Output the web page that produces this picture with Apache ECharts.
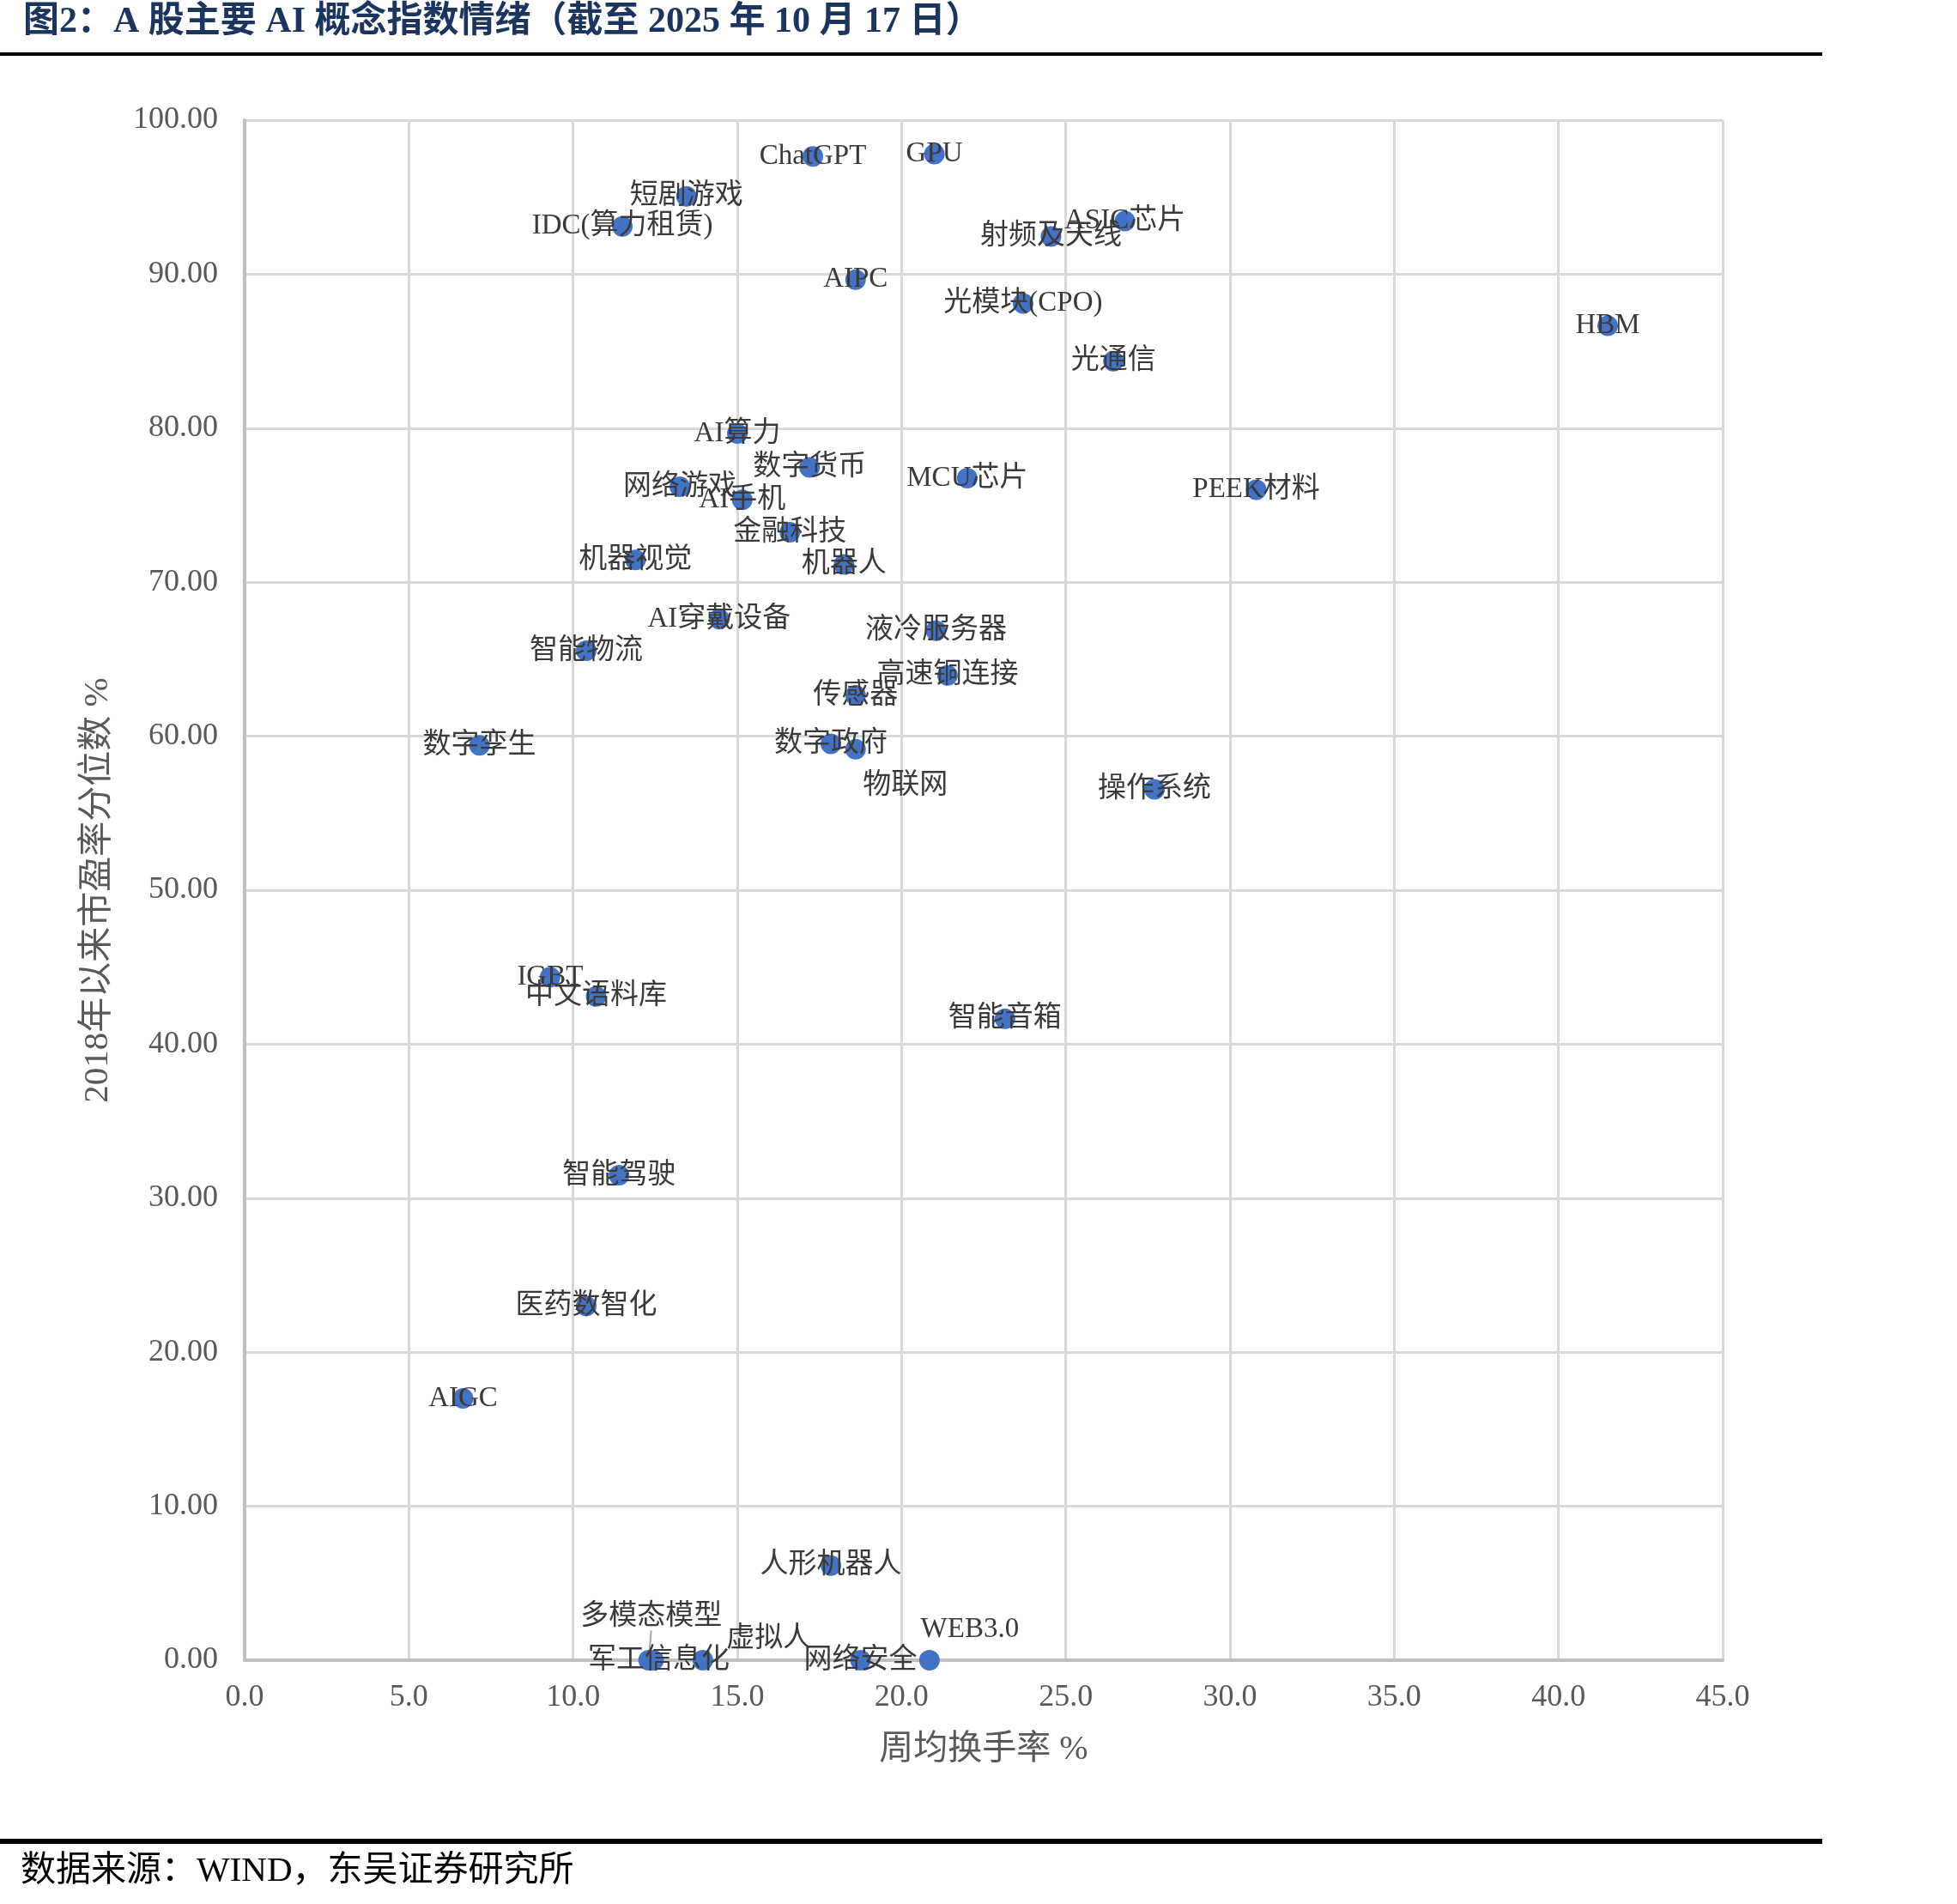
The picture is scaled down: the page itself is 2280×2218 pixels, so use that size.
<!DOCTYPE html>
<html>
<head>
<meta charset="utf-8">
<script src="https://cdn.jsdelivr.net/npm/echarts@6/dist/echarts.min.js"></script>
<style>
  html, body { margin: 0; padding: 0; background: #fff; }
  #chart { width: 2280px; height: 2218px; }
</style>
</head>
<body>
<div id="chart"></div>
<script>
// 概念名称
const names = [
  'ChatGPT', 'GPU', '短剧游戏', 'IDC(算力租赁)', 'ASIC芯片', '射频及天线', 'AIPC', '光模块(CPO)',
  'HBM', '光通信', 'AI算力', '数字货币', 'MCU芯片', '网络游戏', 'PEEK材料', 'AI手机',
  '金融科技', '机器视觉', '机器人', 'AI穿戴设备', '液冷服务器', '智能物流', '高速铜连接', '传感器',
  '数字孪生', '数字政府', '物联网', '操作系统', 'IGBT', '中文语料库', '智能音箱', '智能驾驶',
  '医药数智化', 'AIGC', '人形机器人', '多模态模型', '军工信息化', '虚拟人', '网络安全', 'WEB3.0'
];
// 周均换手率 %
const turnover = [
  17.3, 21.0, 13.45, 11.5, 26.8, 24.55, 18.6, 23.7,
  41.5, 26.45, 15.0, 17.2, 22.0, 13.25, 30.8, 15.15,
  16.6, 11.9, 18.25, 14.45, 21.05, 10.4, 21.4, 18.6,
  7.15, 17.85, 18.6, 27.7, 9.3, 10.7, 23.15, 11.4,
  10.4, 6.65, 17.85, 12.3, 12.45, 13.95, 18.75, 20.85
];
// 2018年以来市盈率分位数 %
const pePercentile = [
  97.65, 97.8, 95.05, 93.1, 93.45, 92.45, 89.65, 88.1,
  86.65, 84.35, 79.65, 77.45, 76.75, 76.2, 76.0, 75.35,
  73.25, 71.45, 71.15, 67.6, 66.85, 65.55, 63.95, 62.65,
  59.4, 59.5, 59.15, 56.55, 44.35, 43.1, 41.65, 31.5,
  23.0, 17.0, 6.15, 0.0, 0.0, 0.0, 0.0, 0.0
];

const xMin = 0, xMax = 45, xStep = 5;
const yMin = 0, yMax = 100, yStep = 10;

// 手动挪开的标签（像素偏移）
const labelShift = {
  '物联网': [58, 42],
  '多模态模型': [3, -51],
  '虚拟人': [77, -25],
  'WEB3.0': [47, -36],
  '军工信息化': [6, 0]
};

const serif = "'Liberation Serif', 'Noto Sans CJK SC', serif";

const chart = echarts.init(document.getElementById('chart'));

const points = names.map((n, i) => {
  const item = { name: n, value: [turnover[i], pePercentile[i]] };
  if (n === '多模态模型') {
    item.labelLine = { show: true, lineStyle: { color: '#a6a6a6', width: 2 } };
  }
  return item;
});

const option = {
  backgroundColor: '#ffffff',
  animation: false,
  title: {
    text: '图2：A 股主要 AI 概念指数情绪（截至 2025 年 10 月 17 日）',
    left: 22,
    top: 0,
    textStyle: { fontFamily: serif, fontSize: 42, fontWeight: 'bold', color: '#1c355e' }
  },
  graphic: [
    { type: 'line', shape: { x1: 0, y1: 63, x2: 2123, y2: 63 }, style: { stroke: '#000', lineWidth: 4 } },
    { type: 'line', shape: { x1: 0, y1: 2145, x2: 2123, y2: 2145 }, style: { stroke: '#000', lineWidth: 6 } },
    {
      type: 'text', left: 24, top: 2160,
      style: { text: '数据来源：WIND，东吴证券研究所', font: '41px ' + serif, fill: '#000' }
    }
  ],
  grid: { left: 285, right: 273, top: 140, bottom: 284 },
  xAxis: {
    type: 'value',
    min: xMin, max: xMax, interval: xStep,
    name: '周均换手率 %',
    nameLocation: 'middle',
    nameGap: 84,
    nameTextStyle: { fontFamily: serif, fontSize: 40, color: '#595959' },
    axisLine: { show: true, lineStyle: { color: '#bfbfbf', width: 4 } },
    axisTick: { show: false },
    axisLabel: {
      margin: 26, fontFamily: serif, fontSize: 36, color: '#595959',
      formatter: v => v.toFixed(1)
    },
    splitLine: { show: true, lineStyle: { color: '#d9d9d9', width: 3 } }
  },
  yAxis: {
    type: 'value',
    min: yMin, max: yMax, interval: yStep,
    name: '2018年以来市盈率分位数 %',
    nameLocation: 'middle',
    nameGap: 150,
    nameRotate: 90,
    nameTextStyle: { fontFamily: serif, fontSize: 41, color: '#595959' },
    axisLine: { show: true, lineStyle: { color: '#bfbfbf', width: 4 } },
    axisTick: { show: false },
    axisLabel: {
      margin: 31, fontFamily: serif, fontSize: 36, color: '#595959',
      formatter: v => v.toFixed(2)
    },
    splitLine: { show: true, lineStyle: { color: '#d9d9d9', width: 3 } }
  },
  series: [{
    type: 'scatter',
    symbol: 'circle',
    symbolSize: 24,
    itemStyle: { color: '#4472c4', opacity: 1 },
    label: {
      show: true,
      position: 'inside',
      formatter: p => p.name,
      fontFamily: serif,
      fontSize: 33,
      color: '#3a3a3a'
    },
    labelLayout: function (p) {
      const s = labelShift[names[p.dataIndex]];
      return s ? { dx: s[0], dy: s[1] } : {};
    },
    data: points
  }]
};

chart.setOption(option);
</script>
</body>
</html>
